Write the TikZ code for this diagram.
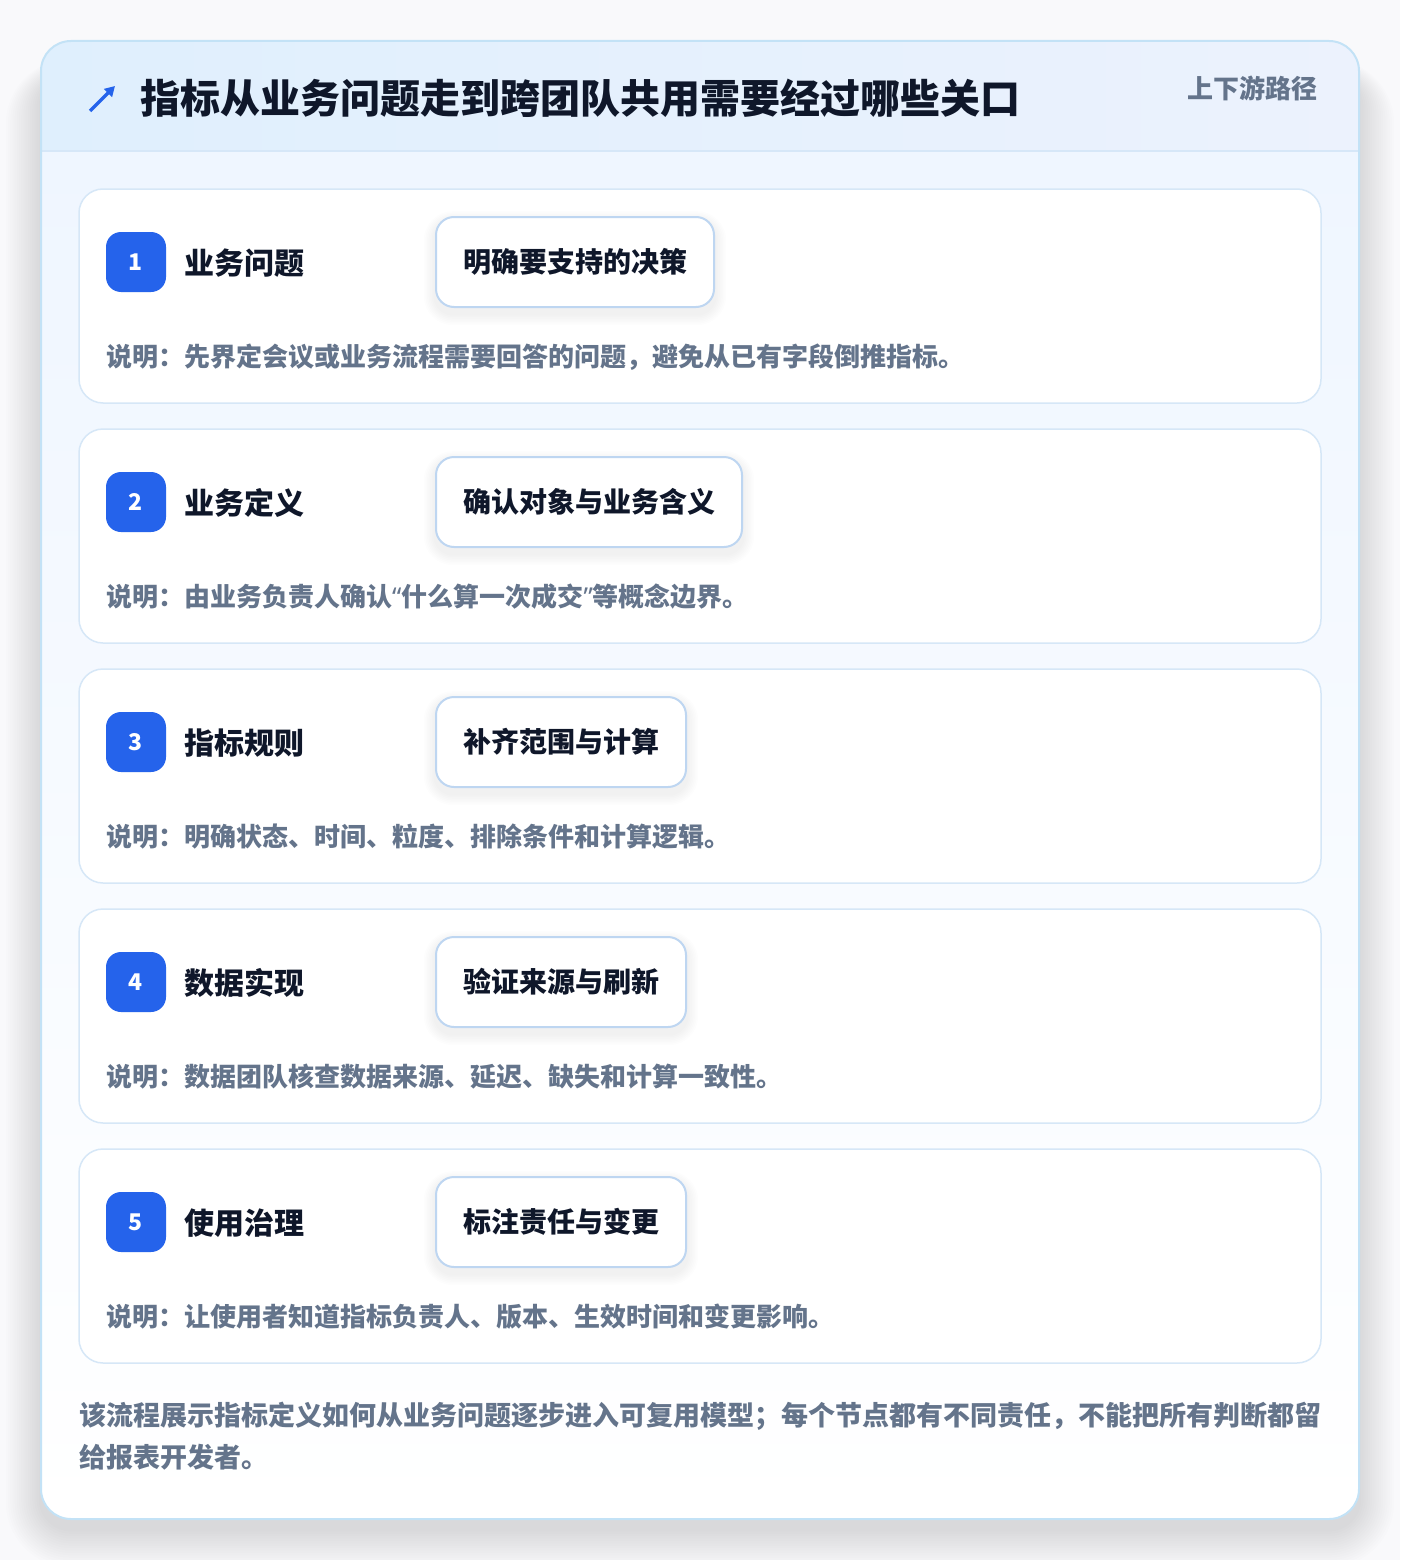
\documentclass[tikz,border=0pt]{standalone}
\usepackage{fontspec}
\setmainfont{Noto Sans CJK SC}
\newfontfamily\latinq{Noto Sans}
\usetikzlibrary{arrows.meta}
\definecolor{bgc}{HTML}{F9F9FB}
\definecolor{cardborder}{HTML}{C3E2F6}
\definecolor{hdrL}{HTML}{DFEFFD}
\definecolor{hdrR}{HTML}{ECF2FD}
\definecolor{hdrline}{HTML}{D6E7F8}
\definecolor{bodyT}{HTML}{EFF6FF}
\definecolor{cardline}{HTML}{D6E7F7}
\definecolor{pillline}{HTML}{BED6F1}
\definecolor{blueA}{HTML}{2563EB}
\definecolor{ink}{HTML}{0F172A}
\definecolor{muted}{HTML}{64748B}
\tikzset{
  stepcard/.style={draw=cardline, line width=1.5pt, fill=white, rounded corners=24pt,
    minimum width=1242pt, minimum height=214pt, inner sep=0pt},
  badge/.style={fill=blueA, rounded corners=15pt, minimum size=60pt, inner sep=0pt,
    text=white, font=\fontsize{23}{23}\selectfont\bfseries},
  steptitle/.style={anchor=west, inner sep=0pt, text=ink, text height=26.4pt, text depth=3.6pt,
    font=\fontsize{30}{30}\selectfont\bfseries},
  pill/.style={anchor=west, draw=pillline, line width=2pt, fill=white, rounded corners=18pt,
    minimum height=90pt, inner xsep=27pt, inner ysep=0pt, text=ink, text height=24.64pt, text depth=3.36pt,
    font=\fontsize{28}{28}\selectfont\bfseries},
  desc/.style={anchor=west, inner sep=0pt, text=muted, text height=22.88pt, text depth=3.12pt,
    font=\fontsize{26}{26}\selectfont\bfseries},
  foot/.style={anchor=west, inner sep=0pt, text=muted, text height=23.76pt, text depth=3.24pt,
    font=\fontsize{27}{27}\selectfont\bfseries},
  softshadow/.style={fill=black, fill opacity=#1},
}
\begin{document}
\begin{tikzpicture}[x=1pt,y=-1pt]
\fill[bgc] (0,0) rectangle (1400,1560);
\useasboundingbox (0,0) rectangle (1400,1560);
% soft shadow of the main card
\foreach \k in {1,...,16}{
  \fill[softshadow=0.006, rounded corners={30pt+2.2pt*\k}]
    (41-2.2*\k,41+34-1.0*\k) rectangle (1359+2.2*\k,1519+10+2.4*\k);
}
\fill[white, rounded corners=30pt] (41,41) rectangle (1359,1519);
\begin{scope}
  \clip[rounded corners=30pt] (41,41) rectangle (1359,1519);
  \shade[left color=hdrL, right color=hdrR] (41,41) rectangle (1359,151);
  \shade[top color=bodyT, bottom color=white] (41,151) rectangle (1359,1519);
\end{scope}
\draw[hdrline, line width=1.5pt] (42,151) -- (1358,151);
\draw[cardborder, line width=2pt, rounded corners=30pt] (41,41) rectangle (1359,1519);
% header
\coordinate (iconS) at (90,111);
\coordinate (iconE) at (115,86);
\draw[blueA, line width=3.4pt, -{Triangle[length=10pt,width=11pt]}] (iconS) -- (iconE);
\node[anchor=west, inner sep=0pt, text=ink, text height=35.2pt, text depth=4.8pt,
  font=\fontsize{40}{40}\selectfont\bfseries] (title) at (140,98) {指标从业务问题走到跨团队共用需要经过哪些关口};
\node[anchor=east, inner sep=0pt, text=muted, text height=22.88pt, text depth=3.12pt,
  font=\fontsize{26}{26}\selectfont\bfseries] (tag) at (1318,89) {上下游路径};
% steps
\foreach \n/\y/\t/\p/\d in {
  1/189/业务问题/明确要支持的决策/说明：先界定会议或业务流程需要回答的问题，避免从已有字段倒推指标。,
  2/429/业务定义/确认对象与业务含义/{说明：由业务负责人确认{\latinq “}什么算一次成交{\latinq ”}等概念边界。},
  3/669/指标规则/补齐范围与计算/说明：明确状态、时间、粒度、排除条件和计算逻辑。,
  4/909/数据实现/验证来源与刷新/说明：数据团队核查数据来源、延迟、缺失和计算一致性。,
  5/1149/使用治理/标注责任与变更/说明：让使用者知道指标负责人、版本、生效时间和变更影响。}{
  \node[stepcard] (card\n) at (700,\y+107) {};
  \node[badge] (badge\n) at (136,\y+73) {\n};
  \node[steptitle] (stitle\n) at (184,\y+74) {\t};
  \node[pill, opacity=0] (pillghost\n) at (435,\y+73) {\p};
  \foreach \k in {1,...,7}{
    \fill[softshadow=0.008, rounded corners={18pt+1.6pt*\k}]
      ([xshift=-1.6*\k pt, yshift=-5pt+1.4*\k pt]pillghost\n.north west)
      rectangle ([xshift=1.6*\k pt, yshift=-6pt-1.6*\k pt]pillghost\n.south east);
  }
  \node[pill] (pill\n) at (435,\y+73) {\p};
  \node[desc] (desc\n) at (106,\y+168) {\d};
}
% footer
\node[foot] (footA) at (79,1415) {该流程展示指标定义如何从业务问题逐步进入可复用模型；每个节点都有不同责任，不能把所有判断都留};
\node[foot] (footB) at (79,1457) {给报表开发者。};
\end{tikzpicture}
\end{document}
